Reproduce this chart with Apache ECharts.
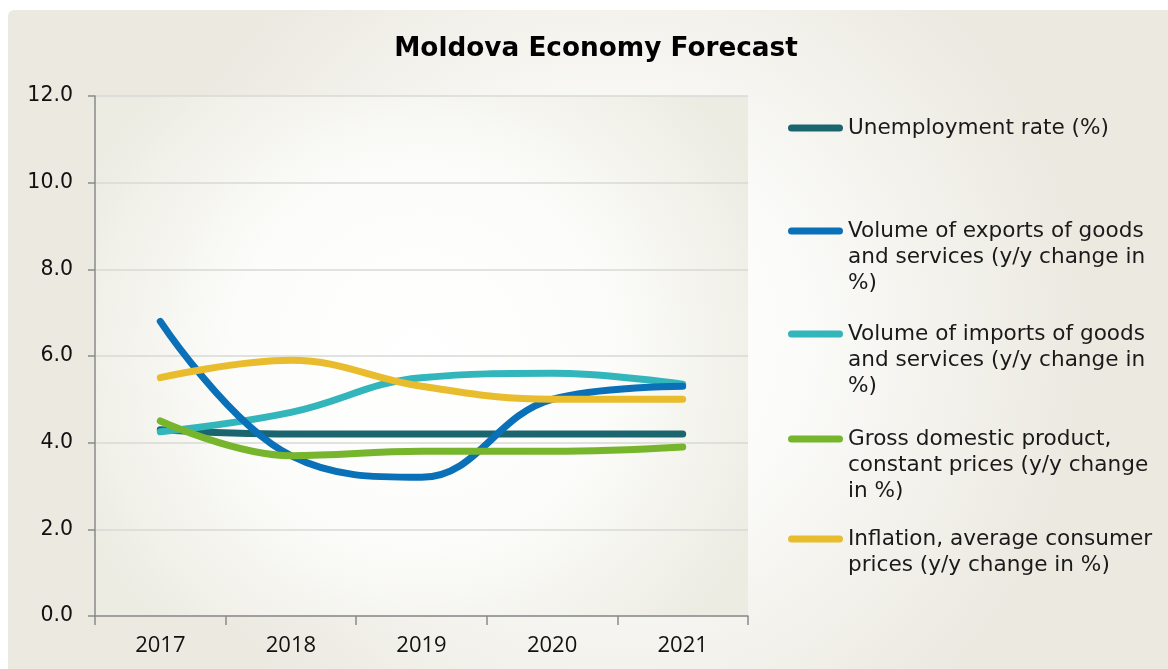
<!DOCTYPE html>
<html>
<head>
<meta charset="utf-8">
<script src="https://cdn.jsdelivr.net/npm/echarts@6/dist/echarts.min.js"></script>
<style>
html,body{margin:0;padding:0;background:#fff;}
#chart{width:1168px;height:669px;}
</style>
</head>
<body>
<div id="chart"></div>
<script>
const categories = ['2017', '2018', '2019', '2020', '2021'];
const seriesNames = [
  'Unemployment rate (%)',
  'Volume of exports of goods and services (y/y change in %)',
  'Volume of imports of goods and services (y/y change in %)',
  'Gross domestic product, constant prices (y/y change in %)',
  'Inflation, average consumer prices (y/y change in %)'
];
const legendLabels = [
  'Unemployment rate (%)',
  'Volume of exports of goods\nand services (y/y change in\n%)',
  'Volume of imports of goods\nand services (y/y change in\n%)',
  'Gross domestic product,\nconstant prices (y/y change\nin %)',
  'Inflation, average consumer\nprices (y/y change in %)'
];
const unemployment = [4.3, 4.2, 4.2, 4.2, 4.2];
const exportsVol = [6.8, 3.7, 3.2, 5.0, 5.3];
const importsVol = [4.25, 4.7, 5.5, 5.6, 5.35];
const gdp = [4.5, 3.7, 3.8, 3.8, 3.9];
const inflation = [5.5, 5.9, 5.3, 5.0, 5.0];
const yTicks = [0, 2, 4, 6, 8, 10, 12];

const seriesData = [unemployment, exportsVol, importsVol, gdp, inflation];
const colors = ['#1b666e', '#0a70b8', '#33b5bc', '#76b52c', '#e9bc2e'];
const legendIconY = [128, 231, 334, 439, 539];
const LH = 26;

const chart = echarts.init(document.getElementById('chart'), null, {renderer: 'canvas'});

const legends = seriesNames.map((name, i) => {
  const lines = legendLabels[i].split('\n');
  const n = lines.length;
  const padLines = [];
  for (let k = 0; k < n - 1; k++) padLines.push(' ');
  const text = padLines.concat(lines).join('\n');
  return {
    data: [name],
    left: 788,
    top: legendIconY[i] - (2 * n - 1) * LH / 2,
    padding: 0,
    orient: 'vertical',
    itemWidth: 55,
    itemHeight: 7,
    icon: 'path://M3.5,0 H51.5 A3.5,3.5 0 0 1 51.5,7 H3.5 A3.5,3.5 0 0 1 3.5,0 Z',
    selectedMode: false,
    formatter: () => text,
    textStyle: {
      fontFamily: 'DejaVu Sans',
      fontSize: 21.6,
      color: '#1a1a1a',
      lineHeight: LH
    }
  };
});

const option = {
  animation: false,
  graphic: [
    {
      type: 'rect',
      z: -10,
      silent: true,
      shape: {x: 8, y: 10, width: 1160, height: 659, r: [6, 0, 0, 0]},
      style: {
        fill: new echarts.graphic.RadialGradient(0.52, 0.5, 0.72, [
          {offset: 0, color: '#ffffff'},
          {offset: 0.4, color: '#fbfbf9'},
          {offset: 1, color: '#ebe9e0'}
        ])
      }
    },
    {
      type: 'rect',
      z: -9,
      silent: true,
      shape: {x: 95, y: 96, width: 653, height: 520},
      style: {
        fill: new echarts.graphic.RadialGradient(0.5, 0.5, 0.72, [
          {offset: 0, color: '#ffffff'},
          {offset: 0.5, color: '#fcfcfa'},
          {offset: 1, color: '#edece3'}
        ])
      }
    }
  ],
  title: {
    text: 'Moldova Economy Forecast',
    left: 591,
    textAlign: 'center',
    top: 29,
    textStyle: {fontFamily: 'DejaVu Sans', fontWeight: 'bold', fontSize: 26.3, lineHeight: 30, color: '#000'}
  },
  legend: legends,
  grid: {left: 95, right: 420, top: 96, bottom: 53, containLabel: false},
  xAxis: {
    type: 'category',
    data: categories,
    boundaryGap: true,
    axisLine: {show: true, lineStyle: {color: '#8a8a8a', width: 1.5}},
    axisTick: {show: true, length: 9, alignWithLabel: false, lineStyle: {color: '#8a8a8a', width: 1.5}},
    axisLabel: {margin: 19, fontFamily: 'Open Sans', fontSize: 22, color: '#111'}
  },
  yAxis: {
    type: 'value',
    min: 0,
    max: 12,
    interval: 2,
    axisLine: {show: true, lineStyle: {color: '#8a8a8a', width: 1.5}},
    axisTick: {show: true, length: 7, lineStyle: {color: '#8a8a8a', width: 1.5}},
    splitLine: {show: true, lineStyle: {color: '#d9d9d6', width: 1.5}},
    axisLabel: {
      margin: 22,
      fontFamily: 'DejaVu Sans',
      fontSize: 20.5,
      color: '#111',
      formatter: v => yTicks.indexOf(v) >= 0 ? v.toFixed(1) : ''
    }
  },
  series: seriesNames.map((name, i) => ({
    name: name,
    type: 'line',
    data: seriesData[i],
    smooth: 0.4,
    showSymbol: false,
    symbol: 'none',
    color: colors[i],
    lineStyle: {width: 7, color: colors[i], cap: 'round', join: 'round'},
    z: [2, 4, 3, 5, 6][i]
  }))
};

chart.setOption(option);
</script>
</body>
</html>
